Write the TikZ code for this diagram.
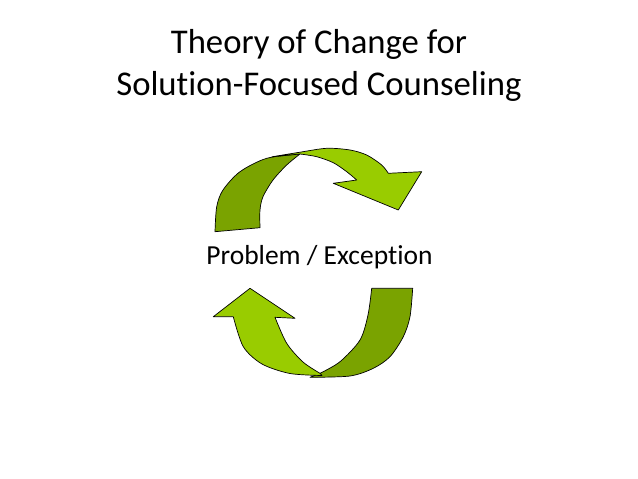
\documentclass[tikz,border=0pt]{standalone}
\usepackage{fontspec}
\setmainfont[Ligatures={NoCommon,NoRare}]{Carlito}
\usetikzlibrary{positioning}
\definecolor{leafgreen}{RGB}{153,204,0}
\definecolor{olivegreen}{RGB}{122,163,0}
\newcommand{\titlesize}{\fontsize{34.7}{42}\selectfont}
\newcommand{\labelsize}{\fontsize{27.5}{33}\selectfont}

\tikzset{
  front/.style={fill=leafgreen, draw=black, line width=0.7pt, line join=round},
  back/.style={fill=olivegreen, draw=black, line width=0.7pt, line join=round},
}

\begin{document}
\begin{tikzpicture}[x=1pt,y=-1pt]
  \useasboundingbox (0,0) rectangle (638,479);
  \node (title) [align=center, inner sep=0pt, font=\titlesize] at (319,65) {Theory of Change for\\ Solution-Focused Counseling};
  \node (pe) [inner sep=0pt, font=\labelsize] at (319.5,257) {Problem / Exception};
  % upper arrow
  \filldraw[back] plot[smooth] coordinates {(215,231.7) (216.7,206.7) (223,190) (240,171.7) (266.7,158.3) (300,154)}
    -- plot[smooth] coordinates {(300,154) (286.7,165) (273,180) (263,196.7) (260,210) (260,227.7)} -- cycle;
  \filldraw[front] plot[smooth] coordinates {(272,156.8) (300,152.2) (326.7,148.3) (350,150) (366.7,155) (381.7,165) (388.3,173.3)}
    -- (421.7,171.7) -- (398.3,210) -- (333.3,183.3) -- (356.7,180)
    -- plot[smooth] coordinates {(356.7,180) (346.7,171.7) (333.3,162.7) (316.7,156.7) (300,154)} -- cycle;
  % lower arrow
  \filldraw[back] (371.7,288.3) -- (412.7,288.3)
    -- plot[smooth] coordinates {(412.7,288.3) (410,316.7) (403.3,336.7) (390,356.7) (373.3,368.3) (350,376) (310,377.3)}
    -- plot[smooth] coordinates {(320,373.3) (340,361.7) (360,340) (368,315) (371.7,288.3)} -- cycle;
  \filldraw[front] (250,288.3) -- (213.3,316.7) -- (233.3,316.7)
    -- plot[smooth] coordinates {(233.3,316.7) (243.3,346.7) (262,364) (290,373.5) (322,375.5)}
    -- plot[smooth] coordinates {(320,373.3) (303,362) (286.7,343.3) (275,317.3)}
    -- (295,318.3) -- cycle;
\end{tikzpicture}
\end{document}
